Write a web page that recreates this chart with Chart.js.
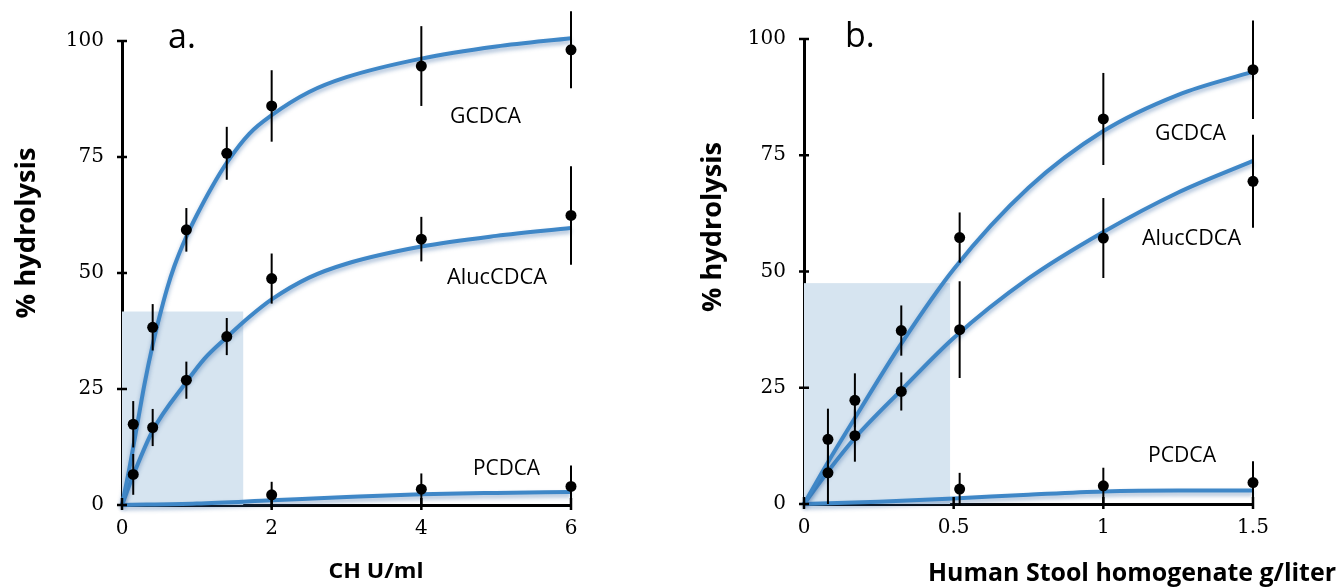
<!DOCTYPE html>
<html>
<head>
<meta charset="utf-8">
<script src="https://cdn.jsdelivr.net/npm/chart.js@4.4.1/dist/chart.umd.min.js"></script>
<style>
  html, body { margin: 0; padding: 0; background: #fff; }
  #wrap { position: relative; width: 1338px; height: 588px; }
  .panel { position: absolute; top: 0; width: 669px; height: 588px; }
</style>
</head>
<body>
<div id="wrap">
  <div class="panel" style="left:0"><canvas id="chartA" width="669" height="588"></canvas></div>
  <div class="panel" style="left:669px"><canvas id="chartB" width="669" height="588"></canvas></div>
</div>
<script>
// ---- panel a: CH U/ml ----
const aPointX = [0.15, 0.41, 0.86, 1.4, 2, 4, 6];
const aGcdca = [17.4, 38.3, 59.3, 75.8, 86.0, 94.6, 98.1];
const aGcdcaErr = [5, 5, 4.7, 5.7, 7.7, 8.6, 8.3];
const aAluc = [6.6, 16.7, 26.9, 36.3, 48.8, 57.3, 62.4];
const aAlucErr = [4.4, 4, 4, 4, 5.4, 4.8, 10.6];
const aPX = [2, 4, 6];
const aP = [2.2, 3.4, 4.0];
const aPErr = [2.8, 3.4, 4.5];

// fitted curves
const aGcdcaCurveX = [0, 0.1, 0.2, 0.3, 0.41, 0.5, 0.6, 0.7, 0.85, 1.0, 1.2, 1.41, 1.7, 2.0, 2.5, 3, 4, 5, 6];
const aGcdcaCurveY = [0, 8, 17, 26, 34.5, 40.5, 46.5, 51.5, 57.5, 62.5, 68.5, 74, 80, 84, 89, 92.2, 96.2, 98.8, 100.6];
const aAlucCurveX = [0, 0.15, 0.41, 0.86, 1.1, 1.39, 1.7, 2.0, 2.5, 3, 4, 5, 6];
const aAlucCurveY = [0, 6.4, 16, 26.5, 31.5, 36, 40.5, 44.3, 49, 52, 55.7, 58, 59.7];
const aPCurveX = [0, 1, 2, 3, 4, 5, 6];
const aPCurveY = [0, 0.3, 1.0, 1.7, 2.3, 2.6, 2.8];
const aShade = [1.62, 41.7];

// ---- panel b: Human stool homogenate g/liter ----
const bPointX = [0.08, 0.17, 0.325, 0.52, 1.0, 1.5];
const bGcdca = [13.9, 22.3, 37.3, 57.3, 82.8, 93.4];
const bGcdcaErr = [6.6, 5.8, 5.4, 5.4, 9.9, 10.6];
const bAluc = [6.7, 14.7, 24.2, 37.5, 57.2, 69.4];
const bAlucErr = [6.7, 5.6, 4.1, 10.4, 8.6, 10];
const bPX = [0.52, 1.0, 1.5];
const bP = [3.2, 3.9, 4.6];
const bPErr = [3.5, 3.9, 4.6];

const bGcdcaCurveX = [0, 0.08, 0.17, 0.325, 0.5, 0.75, 1.0, 1.25, 1.5];
const bGcdcaCurveY = [0, 9, 18.5, 34.5, 50.5, 68, 80.2, 88, 93];
const bAlucCurveX = [0, 0.08, 0.17, 0.325, 0.5, 0.75, 1.0, 1.25, 1.5];
const bAlucCurveY = [0, 7, 14.2, 24.5, 35.7, 48.5, 58.5, 67, 73.8];
const bPCurveX = [0, 0.25, 0.5, 0.75, 1.0, 1.25, 1.5];
const bPCurveY = [0, 0.5, 1.2, 2.0, 2.7, 2.9, 2.9];
const bShade = [0.488, 47.5];

const yTicks = [0, 25, 50, 75, 100];

const BLUE = '#3f87c7';
const xy = (xs, ys) => xs.map((x, i) => ({ x, y: ys[i] }));

const curve = (xs, ys) => ({
  type: 'line', data: xy(xs, ys), borderColor: BLUE, borderWidth: 4,
  pointRadius: 0, cubicInterpolationMode: 'monotone', clip: false, order: 2, glow: true
});
const points = (xs, ys, err) => ({
  type: 'scatter', data: xy(xs, ys), err, pointRadius: 5.5,
  backgroundColor: '#000', borderWidth: 0, clip: false, order: 0
});

function drawText(ctx, t) {
  ctx.save();
  ctx.font = t.font;
  ctx.fillStyle = '#000';
  ctx.textBaseline = 'alphabetic';
  const w = ctx.measureText(t.text).width;
  const sx = t.width ? t.width / w : 1;
  ctx.translate(t.x, t.y);
  if (t.rotate) ctx.rotate(t.rotate);
  ctx.scale(sx, 1);
  ctx.textAlign = t.align || 'left';
  ctx.fillText(t.text, 0, 0);
  ctx.restore();
}

const decor = {
  id: 'decor',
  beforeDatasetsDraw(chart, args, opts) {
    const { ctx, scales: { x, y } } = chart;
    const l = x.getPixelForValue(0), r = x.getPixelForValue(opts.shade[0]);
    const t = y.getPixelForValue(opts.shade[1]), b = y.getPixelForValue(0);
    ctx.save();
    ctx.fillStyle = '#d6e4f0';
    ctx.fillRect(l, t, r - l, b - t);
    ctx.restore();
  },
  beforeDatasetDraw(chart, args) {
    const { ctx, scales: { x, y } } = chart;
    const ds = chart.data.datasets[args.index];
    if (ds.err) {
      ctx.save();
      ctx.strokeStyle = '#000';
      ctx.lineWidth = 2;
      ds.data.forEach((p, i) => {
        const px = x.getPixelForValue(p.x);
        ctx.beginPath();
        ctx.moveTo(px, y.getPixelForValue(p.y - ds.err[i]));
        ctx.lineTo(px, y.getPixelForValue(p.y + ds.err[i]));
        ctx.stroke();
      });
      ctx.restore();
    }
    if (ds.glow) {
      ctx.save();
      ctx.shadowColor = 'rgba(50,100,160,0.45)';
      ctx.shadowBlur = 4;
      ctx.shadowOffsetY = 3;
    }
  },
  afterDatasetDraw(chart, args) {
    if (chart.data.datasets[args.index].glow) chart.ctx.restore();
  },
  afterDraw(chart, args, opts) {
    const { ctx, chartArea, scales: { x, y } } = chart;
    ctx.save();
    ctx.strokeStyle = '#000';
    ctx.lineWidth = 2.5;
    y.ticks.forEach(t => {
      const py = y.getPixelForValue(t.value);
      ctx.beginPath(); ctx.moveTo(chartArea.left - 5, py); ctx.lineTo(chartArea.left + 5, py); ctx.stroke();
    });
    x.ticks.forEach(t => {
      const px = x.getPixelForValue(t.value);
      ctx.beginPath(); ctx.moveTo(px, chartArea.bottom - 7); ctx.lineTo(px, chartArea.bottom + 5); ctx.stroke();
    });
    ctx.restore();
    opts.texts.forEach(t => drawText(ctx, t));
  }
};

function panel(id, spec) {
  return new Chart(document.getElementById(id), {
    data: { datasets: spec.datasets },
    options: {
      responsive: false,
      animation: false,
      layout: { padding: { top: spec.top, right: spec.right, left: 0, bottom: 0 } },
      plugins: {
        legend: { display: false },
        tooltip: { enabled: false },
        decor: { shade: spec.shade, texts: spec.texts }
      },
      scales: {
        x: {
          type: 'linear', min: 0, max: spec.xMax, z: 1,
          grid: { display: false, drawTicks: false },
          border: { display: true, color: '#000', width: 3 },
          ticks: {
            stepSize: spec.xStep, padding: 12, color: '#000',
            font: { family: 'DejaVu Serif', size: 20 },
            callback: v => String(v)
          },
          afterFit: s => { s.height = spec.xHeight; }
        },
        y: {
          type: 'linear', min: 0, max: 100, z: 1,
          grid: { display: false, drawTicks: false },
          border: { display: true, color: '#000', width: 3 },
          afterBuildTicks: s => { s.ticks = yTicks.map(v => ({ value: v })); },
          ticks: { padding: 18, color: '#000', font: { family: 'DejaVu Serif', size: 20 } },
          afterFit: s => { s.width = spec.yWidth; }
        }
      }
    },
    plugins: [decor]
  });
}

const LABEL = '21px "Open Sans"';

panel('chartA', {
  xMax: 6, xStep: 2, top: 41, right: 98, xHeight: 83, yWidth: 122, shade: aShade,
  datasets: [
    points(aPointX, aGcdca, aGcdcaErr),
    points(aPointX, aAluc, aAlucErr),
    points(aPX, aP, aPErr),
    curve(aGcdcaCurveX, aGcdcaCurveY),
    curve(aAlucCurveX, aAlucCurveY),
    curve(aPCurveX, aPCurveY)
  ],
  texts: [
    { text: 'a.', x: 168, y: 48, font: '34px "Open Sans"' },
    { text: '% hydrolysis', x: 35, y: 233, font: 'bold 26px "Open Sans"', align: 'center', rotate: -Math.PI / 2, width: 171 },
    { text: 'CH U/ml', x: 376, y: 578, font: 'bold 22px "Open Sans"', align: 'center', width: 95 },
    { text: 'GCDCA', x: 450, y: 123, font: LABEL, width: 71 },
    { text: 'AlucCDCA', x: 447, y: 284, font: LABEL, width: 100 },
    { text: 'PCDCA', x: 473, y: 475, font: LABEL, width: 67 }
  ]
});

panel('chartB', {
  xMax: 1.5, xStep: 0.5, top: 39, right: 85, xHeight: 84, yWidth: 135, shade: bShade,
  datasets: [
    points(bPointX, bGcdca, bGcdcaErr),
    points(bPointX, bAluc, bAlucErr),
    points(bPX, bP, bPErr),
    curve(bGcdcaCurveX, bGcdcaCurveY),
    curve(bAlucCurveX, bAlucCurveY),
    curve(bPCurveX, bPCurveY)
  ],
  texts: [
    { text: 'b.', x: 845 - 669, y: 47, font: '34px "Open Sans"' },
    { text: '% hydrolysis', x: 721 - 669, y: 227, font: 'bold 26px "Open Sans"', align: 'center', rotate: -Math.PI / 2, width: 170 },
    { text: 'Human Stool homogenate g/liter', x: 928 - 669, y: 581, font: 'bold 25px "Open Sans"', width: 408 },
    { text: 'GCDCA', x: 1155 - 669, y: 140, font: LABEL, width: 71 },
    { text: 'AlucCDCA', x: 1142 - 669, y: 245, font: LABEL, width: 99 },
    { text: 'PCDCA', x: 1148 - 669, y: 462, font: LABEL, width: 68 }
  ]
});
</script>
</body>
</html>
